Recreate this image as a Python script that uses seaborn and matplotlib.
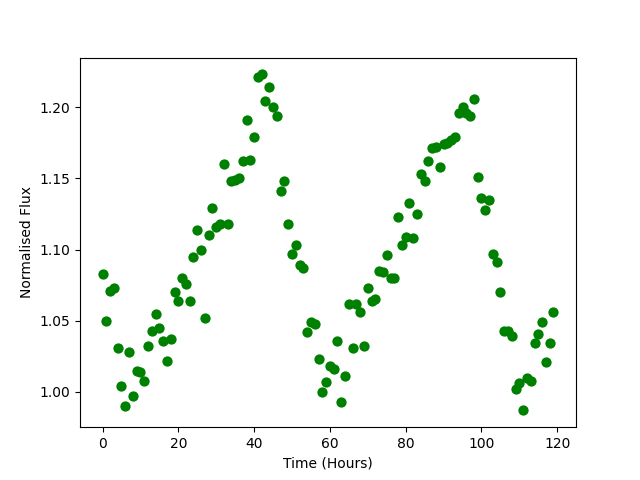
import numpy as np
import pandas as pd
import matplotlib
matplotlib.use("Agg")
import matplotlib.pyplot as plt
import seaborn as sns

hours = list(range(120))
flux = [1.083, 1.050, 1.071, 1.073, 1.031, 1.004, 0.990, 1.028, 0.997, 1.015,
        1.014, 1.008, 1.032, 1.043, 1.055, 1.045, 1.036, 1.022, 1.037, 1.070,
        1.064, 1.080, 1.076, 1.064, 1.095, 1.114, 1.100, 1.052, 1.110, 1.129,
        1.116, 1.118, 1.160, 1.118, 1.148, 1.149, 1.150, 1.162, 1.191, 1.163,
        1.179, 1.221, 1.223, 1.204, 1.214, 1.200, 1.194, 1.141, 1.148, 1.118,
        1.097, 1.103, 1.089, 1.087, 1.042, 1.049, 1.048, 1.023, 1.000, 1.007,
        1.018, 1.016, 1.036, 0.993, 1.011, 1.062, 1.031, 1.062, 1.056, 1.032,
        1.073, 1.064, 1.065, 1.085, 1.084, 1.096, 1.080, 1.080, 1.123, 1.103,
        1.109, 1.133, 1.108, 1.125, 1.153, 1.148, 1.162, 1.171, 1.172, 1.158,
        1.174, 1.175, 1.177, 1.179, 1.196, 1.200, 1.196, 1.194, 1.206, 1.151,
        1.136, 1.128, 1.135, 1.097, 1.091, 1.070, 1.043, 1.043, 1.039, 1.002,
        1.006, 0.987, 1.010, 1.008, 1.034, 1.041, 1.049, 1.021, 1.034, 1.056]

df = pd.DataFrame({'time': hours, 'flux': flux})

fig, ax = plt.subplots(figsize=(6.4, 4.8), dpi=100)
sns.scatterplot(data=df, x='time', y='flux', color='green', s=55, linewidth=0, ax=ax)
ax.set_xlabel("Time (Hours)")
ax.set_ylabel("Normalised Flux")
plt.savefig('out.png')
